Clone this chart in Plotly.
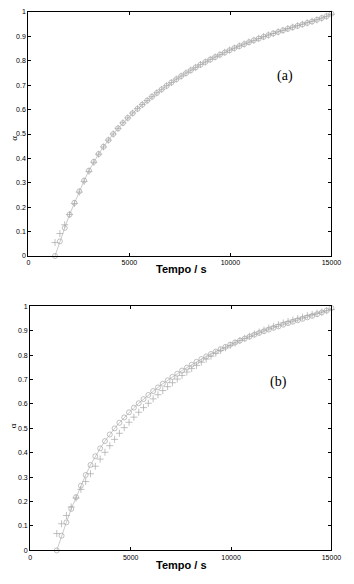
import plotly.graph_objects as go

# Time (s)
tempo = [1320, 1560, 1800, 2040, 2280, 2520, 2760, 3000, 3240, 3480,
         3720, 3960, 4200, 4440, 4680, 4920, 5160, 5400, 5640, 5880,
         6120, 6360, 6600, 6840, 7080, 7320, 7560, 7800, 8040, 8280,
         8520, 8760, 9000, 9240, 9480, 9720, 9960, 10200, 10440, 10680,
         10920, 11160, 11400, 11640, 11880, 12120, 12360, 12600, 12840, 13080,
         13320, 13560, 13800, 14040, 14280, 14520, 14760, 15000]

# Experimental conversion (circles, same in both panels)
alpha_exp = [0.000, 0.060, 0.115, 0.170, 0.218, 0.265, 0.309, 0.350, 0.386, 0.418,
             0.448, 0.475, 0.500, 0.523, 0.545, 0.566, 0.585, 0.603, 0.620, 0.637,
             0.653, 0.668, 0.683, 0.697, 0.711, 0.724, 0.737, 0.749, 0.761, 0.773,
             0.784, 0.795, 0.805, 0.815, 0.825, 0.834, 0.843, 0.852, 0.860, 0.868,
             0.876, 0.884, 0.891, 0.898, 0.905, 0.912, 0.918, 0.925, 0.931, 0.937,
             0.943, 0.949, 0.955, 0.961, 0.968, 0.975, 0.983, 0.993]

# Model (a) (crosses)
alpha_mod_a = [0.055, 0.092, 0.128, 0.170, 0.215, 0.262, 0.306, 0.347, 0.384, 0.417,
               0.447, 0.475, 0.500, 0.523, 0.546, 0.566, 0.586, 0.604, 0.621, 0.637,
               0.653, 0.669, 0.683, 0.698, 0.711, 0.725, 0.737, 0.750, 0.762, 0.773,
               0.785, 0.795, 0.806, 0.816, 0.825, 0.835, 0.844, 0.852, 0.861, 0.869,
               0.877, 0.884, 0.892, 0.899, 0.906, 0.912, 0.919, 0.925, 0.932, 0.938,
               0.944, 0.950, 0.956, 0.962, 0.968, 0.975, 0.982, 0.991]

# Model (b) (crosses)
alpha_mod_b = [0.069, 0.109, 0.143, 0.178, 0.215, 0.250, 0.282, 0.314, 0.345, 0.374,
               0.402, 0.429, 0.455, 0.480, 0.503, 0.525, 0.546, 0.566, 0.585, 0.603,
               0.621, 0.638, 0.655, 0.671, 0.687, 0.702, 0.717, 0.731, 0.745, 0.758,
               0.771, 0.784, 0.796, 0.808, 0.819, 0.830, 0.840, 0.850, 0.860, 0.869,
               0.878, 0.887, 0.895, 0.903, 0.911, 0.918, 0.925, 0.932, 0.938, 0.944,
               0.950, 0.956, 0.962, 0.967, 0.972, 0.977, 0.982, 0.987]

x_ticks = [0, 5000, 10000, 15000]
x_ticktext = ["0", "5000", "10000", "15000"]
y_ticks = [0, 0.1, 0.2, 0.3, 0.4, 0.5, 0.6, 0.7, 0.8, 0.9, 1]
y_ticktext = ["0", "0.1", "0.2", "0.3", "0.4", "0.5", "0.6", "0.7", "0.8", "0.9", "1"]
panel_labels = ["(a)", "(b)"]

# The page body has an 8px margin, so the figure is drawn at (8, 8)
OFF = 8
W, H = 354 - OFF, 584 - OFF
GRAY = "#a6a6a6"

fig = go.Figure()

panels = [
    dict(xa="x", ya="y", model=alpha_mod_a),
    dict(xa="x2", ya="y2", model=alpha_mod_b),
]
for p in panels:
    fig.add_trace(go.Scatter(
        x=tempo, y=alpha_exp, xaxis=p["xa"], yaxis=p["ya"],
        mode="lines+markers",
        line=dict(color=GRAY, width=0.6),
        marker=dict(symbol="circle-open", size=5, color=GRAY, line=dict(width=0.7)),
        showlegend=False, cliponaxis=False))
    fig.add_trace(go.Scatter(
        x=tempo, y=p["model"], xaxis=p["xa"], yaxis=p["ya"],
        mode="markers",
        marker=dict(symbol="cross-thin-open", size=5, color=GRAY, line=dict(width=0.7, color=GRAY)),
        showlegend=False, cliponaxis=False))

# panel pixel boxes in page coordinates (left, right, top, bottom)
boxes = [(27, 341, 8, 255), (29, 341, 306, 553)]

def px_x(v):
    return (v - OFF) / W

def px_y(v):
    return 1 - (v - OFF) / H

axis_common = dict(
    showline=True, linecolor="black", linewidth=1.2, mirror="allticks",
    ticks="inside", ticklen=3, tickwidth=1, tickcolor="black",
    showgrid=False, zeroline=False,
    tickfont=dict(family="Liberation Sans, Arial", size=7, color="black"),
)

layout = dict(
    width=W, height=H, margin=dict(l=0, r=0, t=0, b=0),
    paper_bgcolor="white", plot_bgcolor="white",
)
for i, (l, r, t, b) in enumerate(boxes):
    sfx = "" if i == 0 else "2"
    layout["xaxis" + sfx] = dict(
        domain=[px_x(l), px_x(r)], range=[0, 15000],
        tickvals=x_ticks, ticktext=x_ticktext,
        anchor="y" + sfx, **axis_common)
    layout["yaxis" + sfx] = dict(
        domain=[max(0, px_y(b)), min(1, px_y(t))], range=[0, 1],
        tickvals=y_ticks, ticktext=y_ticktext,
        anchor="x" + sfx, **axis_common)

fig.update_layout(**layout)

# axis titles and panel labels
title_y = [268, 576]
alpha_y = [132, 430]
label_pos = [(303, 63), (297, 383)]
for i in range(2):
    fig.add_annotation(x=px_x(186), y=px_y(title_y[i]), xref="paper", yref="paper",
                       text="<b>Tempo / s</b>", showarrow=False,
                       font=dict(family="Liberation Sans, Arial", size=11, color="black"))
    fig.add_annotation(x=px_x(12), y=px_y(alpha_y[i]), xref="paper", yref="paper",
                       xanchor="center", borderpad=0,
                       text="α", showarrow=False, textangle=-90,
                       font=dict(family="Liberation Serif, Times New Roman", size=9, color="black"))
    fig.add_annotation(x=px_x(label_pos[i][0]), y=px_y(label_pos[i][1]), xref="paper", yref="paper",
                       text=panel_labels[i], showarrow=False,
                       font=dict(family="Liberation Serif, Times New Roman", size=14, color="black"))

fig.write_html("out.html")
